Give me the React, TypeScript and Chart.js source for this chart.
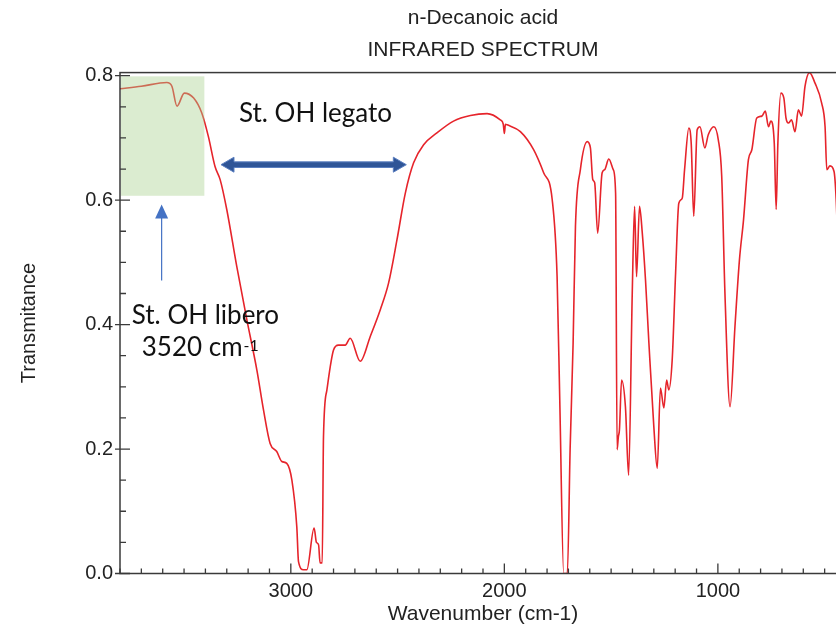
import { useEffect, useRef } from "react";
import { Chart, registerables } from "chart.js";

Chart.register(...registerables);

// ---- data ----
const WAVENUMBERS = [
  3800, 3700, 3581, 3557, 3533, 3499, 3455, 3417, 3386, 3355, 3331, 3300, 3253, 3206, 3159, 3128,
  3097, 3066, 3042, 3019, 2995, 2972, 2964, 2941, 2925, 2891, 2880, 2870, 2863, 2853, 2847, 2831,
  2800, 2777, 2745, 2722, 2675, 2628, 2581, 2542, 2503, 2464, 2425, 2378, 2316, 2238, 2159, 2081,
  2019, 2005, 2000, 1995, 1987, 1925, 1863, 1816, 1776, 1753, 1740, 1722, 1705, 1692, 1678, 1667,
  1644, 1612, 1597, 1586, 1577, 1563, 1542, 1530, 1511, 1490, 1479, 1472, 1466, 1461, 1451, 1433,
  1418, 1401, 1390, 1381, 1367, 1354, 1339, 1323, 1300, 1284, 1269, 1253, 1240, 1230, 1214, 1198,
  1183, 1167, 1156, 1136, 1125, 1113, 1097, 1084, 1061, 1045, 1019, 998, 982, 967, 943, 920,
  899, 880, 857, 841, 818, 794, 778, 763, 752, 736, 727, 719, 705, 691, 681, 670,
  655, 639, 623, 608, 592, 571, 545, 514, 498, 490, 475, 456, 446, 430, 400,
];
const TRANSMITTANCE = [
  0.779, 0.783, 0.789, 0.783, 0.751, 0.772, 0.764, 0.740, 0.702, 0.654, 0.633, 0.585, 0.493, 0.408, 0.327, 0.263,
  0.209, 0.196, 0.180, 0.177, 0.150, 0.075, 0.019, 0.006, 0.006, 0.073, 0.050, 0.046, 0.017, 0.017, 0.220, 0.295,
  0.359, 0.367, 0.367, 0.378, 0.341, 0.381, 0.424, 0.467, 0.536, 0.611, 0.660, 0.689, 0.708, 0.727, 0.736, 0.739,
  0.729, 0.722, 0.707, 0.722, 0.721, 0.710, 0.681, 0.644, 0.601, 0.477, 0.270, 0.000, 0.000, 0.200, 0.370, 0.558,
  0.649, 0.694, 0.684, 0.633, 0.628, 0.547, 0.644, 0.649, 0.666, 0.649, 0.611, 0.199, 0.220, 0.231, 0.311, 0.268,
  0.158, 0.451, 0.590, 0.477, 0.590, 0.547, 0.472, 0.370, 0.236, 0.169, 0.298, 0.266, 0.311, 0.295, 0.343, 0.483,
  0.595, 0.603, 0.649, 0.716, 0.692, 0.574, 0.713, 0.718, 0.684, 0.705, 0.718, 0.697, 0.638, 0.451, 0.268, 0.397,
  0.504, 0.568, 0.665, 0.681, 0.732, 0.735, 0.743, 0.718, 0.727, 0.692, 0.585, 0.692, 0.772, 0.764, 0.732, 0.724,
  0.729, 0.710, 0.745, 0.735, 0.783, 0.805, 0.788, 0.756, 0.718, 0.649, 0.655, 0.646, 0.601, 0.450, 0.400,
];
const X_TICKS = [3000, 2000, 1000];
const Y_TICKS = [0, 0.2, 0.4, 0.6, 0.8];
const X_RANGE = [400, 3800];
const Y_RANGE = [0, 0.805];
const X_MINOR_STEP = 100;
const Y_MINOR_STEP = 0.05;

const TITLE_LINES = ["n-Decanoic acid", "INFRARED SPECTRUM"];
const X_LABEL = "Wavenumber (cm-1)";
const Y_LABEL = "Transmitance";
const NOTE_BOUND = "St. OH legato";
const NOTE_FREE = "St. OH libero";
const NOTE_FREE_WN = "3520 cm";
const NOTE_FREE_SUP = "-1";

// annotation anchors in data coordinates (wavenumber, transmittance)
const BOX_X = [3800, 3405];
const BOX_Y = [0.607, 0.799];
const BOUND_ARROW_X = [3327, 2459];
const BOUND_ARROW_Y = 0.657;
const FREE_ARROW_X = 3605;
const FREE_ARROW_Y = [0.471, 0.593];
const BOUND_TEXT_AT = [3243, 0.725];
const FREE_TEXT_AT = [3745, 0.401];
const FREE_WN_AT = [3698, 0.349];

const AXIS_FONT = "'Liberation Sans', Arial, sans-serif";
const NOTE_FONT = "Lato, 'Open Sans', sans-serif";
const TEXT_COLOR = "#222222";
const FRAME_COLOR = "#3a3a3a";

const decorPlugin = {
  id: "decor",
  afterDatasetsDraw(chart: any) {
    const { ctx, chartArea } = chart;
    const xs = chart.scales.x;
    const ys = chart.scales.y;
    const { left, right, top, bottom } = chartArea;
    ctx.save();

    // shaded region for free OH
    ctx.fillStyle = "rgba(169, 209, 142, 0.42)";
    const bx1 = xs.getPixelForValue(BOX_X[0]);
    const bx2 = xs.getPixelForValue(BOX_X[1]);
    const by1 = ys.getPixelForValue(BOX_Y[1]);
    const by2 = ys.getPixelForValue(BOX_Y[0]);
    ctx.fillRect(Math.min(bx1, bx2) + 1, by1, Math.abs(bx2 - bx1) - 1, by2 - by1);

    // double arrow (bonded OH)
    const ax1 = xs.getPixelForValue(BOUND_ARROW_X[0]);
    const ax2 = xs.getPixelForValue(BOUND_ARROW_X[1]);
    const ay = ys.getPixelForValue(BOUND_ARROW_Y);
    const bh = 2.8;
    const hh = 7.5;
    const hl = 13;
    ctx.beginPath();
    ctx.moveTo(ax1, ay);
    ctx.lineTo(ax1 + hl, ay - hh);
    ctx.lineTo(ax1 + hl, ay - bh);
    ctx.lineTo(ax2 - hl, ay - bh);
    ctx.lineTo(ax2 - hl, ay - hh);
    ctx.lineTo(ax2, ay);
    ctx.lineTo(ax2 - hl, ay + hh);
    ctx.lineTo(ax2 - hl, ay + bh);
    ctx.lineTo(ax1 + hl, ay + bh);
    ctx.lineTo(ax1 + hl, ay + hh);
    ctx.closePath();
    ctx.fillStyle = "#2f5597";
    ctx.fill();
    ctx.strokeStyle = "#5b7fc0";
    ctx.lineWidth = 1;
    ctx.stroke();

    // up arrow (free OH)
    const ux = xs.getPixelForValue(FREE_ARROW_X);
    const uy1 = ys.getPixelForValue(FREE_ARROW_Y[0]);
    const uy2 = ys.getPixelForValue(FREE_ARROW_Y[1]);
    ctx.strokeStyle = "#4472c4";
    ctx.lineWidth = 1.2;
    ctx.beginPath();
    ctx.moveTo(ux, uy1);
    ctx.lineTo(ux, uy2 + 12);
    ctx.stroke();
    ctx.fillStyle = "#4472c4";
    ctx.beginPath();
    ctx.moveTo(ux, uy2);
    ctx.lineTo(ux + 6.5, uy2 + 14);
    ctx.lineTo(ux - 6.5, uy2 + 14);
    ctx.closePath();
    ctx.fill();

    // notes
    ctx.fillStyle = "#111111";
    ctx.textBaseline = "alphabetic";
    ctx.textAlign = "left";
    ctx.font = `26px ${NOTE_FONT}`;
    ctx.fillText(NOTE_BOUND, xs.getPixelForValue(BOUND_TEXT_AT[0]), ys.getPixelForValue(BOUND_TEXT_AT[1]));
    ctx.fillText(NOTE_FREE, xs.getPixelForValue(FREE_TEXT_AT[0]), ys.getPixelForValue(FREE_TEXT_AT[1]));
    const wx = xs.getPixelForValue(FREE_WN_AT[0]);
    const wy = ys.getPixelForValue(FREE_WN_AT[1]);
    ctx.fillText(NOTE_FREE_WN, wx, wy);
    const ww = ctx.measureText(NOTE_FREE_WN).width;
    ctx.font = `16px ${NOTE_FONT}`;
    ctx.fillText(NOTE_FREE_SUP, wx + ww + 1, wy - 5);

    // frame
    ctx.strokeStyle = FRAME_COLOR;
    ctx.lineWidth = 1.5;
    ctx.strokeRect(left, top, right - left, bottom - top);

    // x ticks (inward)
    ctx.lineWidth = 1.3;
    ctx.beginPath();
    for (let v = X_RANGE[0]; v <= X_RANGE[1]; v += X_MINOR_STEP) {
      const px = xs.getPixelForValue(v);
      const major = X_TICKS.includes(v);
      ctx.moveTo(px, bottom);
      ctx.lineTo(px, bottom - (major ? 10 : 5));
    }
    // y ticks
    const nY = Math.round((Y_TICKS[Y_TICKS.length - 1] - Y_TICKS[0]) / Y_MINOR_STEP);
    for (let i = 0; i <= nY; i++) {
      const v = Y_TICKS[0] + i * Y_MINOR_STEP;
      const py = ys.getPixelForValue(v);
      const major = i % 4 === 0;
      ctx.moveTo(major ? left - 5 : left, py);
      ctx.lineTo(left + (major ? 10 : 6), py);
    }
    ctx.stroke();
    ctx.restore();
  },
};

export default function App() {
  const canvasRef = useRef<HTMLCanvasElement | null>(null);

  useEffect(() => {
    const canvas = canvasRef.current;
    if (!canvas) return;
    const points = WAVENUMBERS.map((w, i) => ({ x: w, y: TRANSMITTANCE[i] }));
    const chart = new Chart(canvas, {
      type: "line",
      data: {
        datasets: [
          {
            data: points,
            borderColor: "#e6242b",
            borderWidth: 1.6,
            pointRadius: 0,
            cubicInterpolationMode: "monotone",
            fill: false,
          },
        ],
      },
      options: {
        animation: false,
        responsive: false,
        devicePixelRatio: 1,
        layout: { padding: { top: 0, left: 0, right: 24, bottom: 0 } },
        plugins: {
          legend: { display: false },
          tooltip: { enabled: false },
          title: {
            display: true,
            text: TITLE_LINES,
            fullSize: false,
            color: TEXT_COLOR,
            font: { family: AXIS_FONT, size: 21, weight: "normal", lineHeight: 1.49 },
            padding: { top: 3, bottom: 7 },
          },
        },
        scales: {
          x: {
            type: "linear",
            reverse: true,
            min: X_RANGE[0],
            max: X_RANGE[1],
            afterFit: (s: any) => {
              s.height = 56.5;
            },
            afterBuildTicks: (s: any) => {
              s.ticks = X_TICKS.map((v) => ({ value: v }));
            },
            grid: { display: false, drawTicks: false },
            border: { display: false },
            ticks: {
              color: TEXT_COLOR,
              font: { family: AXIS_FONT, size: 20 },
              padding: 6,
              maxRotation: 0,
              callback: (v: any) => String(v),
            },
            title: {
              display: true,
              text: X_LABEL,
              color: TEXT_COLOR,
              font: { family: AXIS_FONT, size: 21, lineHeight: 1.2 },
              padding: { top: 0, bottom: 3 },
            },
          },
          y: {
            type: "linear",
            min: Y_RANGE[0],
            max: Y_RANGE[1],
            afterFit: (s: any) => {
              s.width = 120;
            },
            afterBuildTicks: (s: any) => {
              s.ticks = Y_TICKS.map((v) => ({ value: v }));
            },
            grid: { display: false, drawTicks: false },
            border: { display: false },
            ticks: {
              color: TEXT_COLOR,
              font: { family: AXIS_FONT, size: 20 },
              padding: 7,
              callback: (v: any) => Number(v).toFixed(1),
            },
            title: {
              display: true,
              text: Y_LABEL,
              color: TEXT_COLOR,
              font: { family: AXIS_FONT, size: 20, lineHeight: 1.2 },
              padding: { top: 17, bottom: 0 },
            },
          },
        },
      },
      plugins: [decorPlugin],
    });
    return () => chart.destroy();
  }, []);

  return (
    <div
      style={{
        position: "absolute",
        left: 0,
        top: 0,
        width: 836,
        height: 630,
        overflow: "hidden",
        background: "#ffffff",
      }}
    >
      <canvas ref={canvasRef} width={870} height={630} style={{ display: "block" }} />
    </div>
  );
}
